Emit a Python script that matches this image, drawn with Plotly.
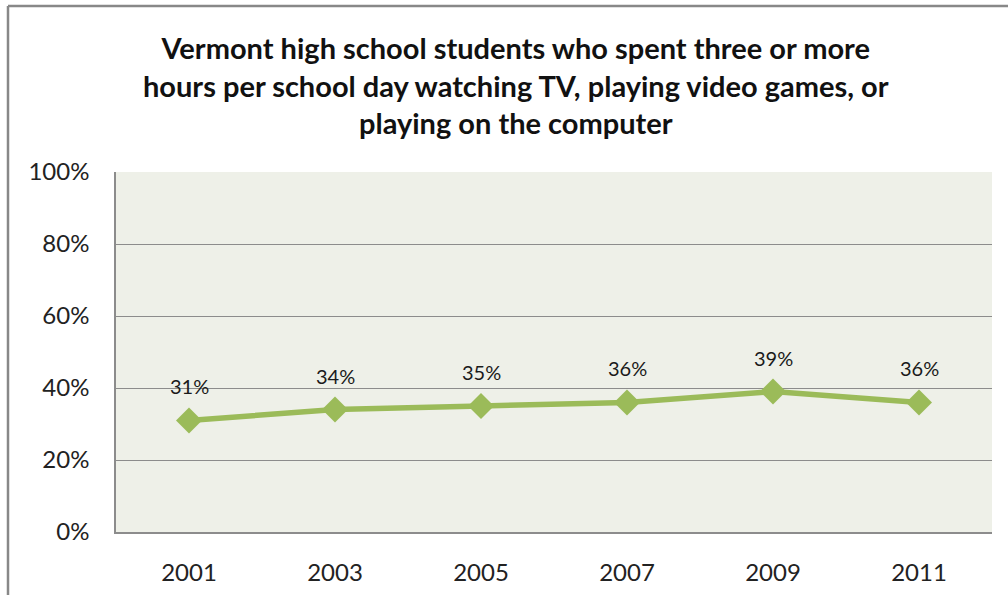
import plotly.graph_objects as go

years = ["2001", "2003", "2005", "2007", "2009", "2011"]
pct = [31, 34, 35, 36, 39, 36]
y_ticks = [0, 20, 40, 60, 80, 100]
y_tick_text = ["0%", "20%", "40%", "60%", "80%", "100%"]
title_lines = [
    "Vermont high school students who spent three or more",
    "hours per school day watching TV, playing video games, or",
    "playing on the computer",
]

GREEN = "#9BBB59"
FONT = "Lato"

W, H = 1008, 595
L, R, T, B = 116, 16, 172, 63
pw, ph = W - L - R, H - T - B


def px_x(x):
    return (x - L) / pw


def px_y(y):
    return (H - B - y) / ph


fig = go.Figure()
fig.add_trace(go.Scatter(
    x=years, y=pct, mode="lines+markers",
    line=dict(color=GREEN, width=5.5),
    marker=dict(symbol="diamond", size=20, color=GREEN),
    hoverinfo="skip", showlegend=False,
))

# value labels above each point (category index on x)
for i, v in enumerate(pct):
    fig.add_annotation(x=i, y=v, xref="x", yref="y", text=f"{v}%",
                       showarrow=False, yshift=34,
                       font=dict(family=FONT, size=20, color="#1a1a1a"))

fig.add_annotation(
    x=px_x(516), y=px_y(85), xref="paper", yref="paper",
    text="<br>".join(title_lines), showarrow=False, align="center",
    xanchor="center", yanchor="middle",
    font=dict(family=FONT, size=29, color="#111", weight="bold"),
)

# outer chart frame (top and left edges)
frame = dict(color="#888888", width=2.5)
fig.add_shape(type="line", xref="paper", yref="paper",
              x0=px_x(8), x1=px_x(W + 10), y0=px_y(6), y1=px_y(6), line=frame)
fig.add_shape(type="line", xref="paper", yref="paper",
              x0=px_x(8), x1=px_x(8), y0=px_y(6), y1=px_y(H + 10), line=frame)

fig.update_layout(
    width=W, height=H,
    margin=dict(l=L, r=R, t=T, b=B, autoexpand=False),
    paper_bgcolor="white", plot_bgcolor="#EEF0E8",
    font=dict(family=FONT, color="#222"),
)
fig.update_xaxes(
    type="category", range=[-0.5, 5.5], showgrid=False, automargin=False,
    showline=True, linecolor="#8c8c8c", linewidth=1.5,
    ticks="", ticklabelstandoff=18,
    tickfont=dict(family=FONT, size=24, color="#222"),
)
fig.update_yaxes(
    range=[0, 100], tickvals=y_ticks, ticktext=y_tick_text, automargin=False,
    showgrid=True, gridcolor="#8c8c8c", gridwidth=1.2,
    showline=True, linecolor="#8c8c8c", linewidth=1.5,
    zeroline=False, ticks="", ticklabelstandoff=20,
    tickfont=dict(family=FONT, size=24, color="#222"),
)

fig.write_html("out.html")
